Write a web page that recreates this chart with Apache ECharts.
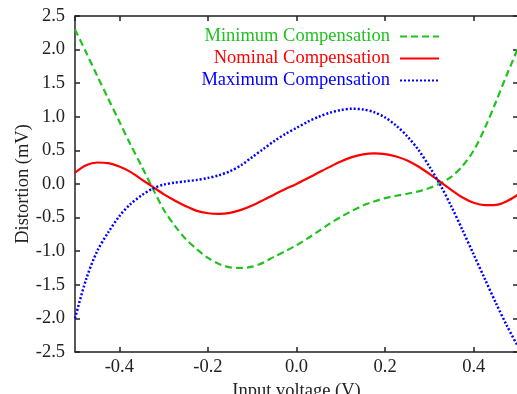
<!DOCTYPE html>
<html>
<head>
<meta charset="utf-8">
<script src="https://cdn.jsdelivr.net/npm/echarts@6/dist/echarts.min.js"></script>
<style>
html, body { margin: 0; padding: 0; background: #fff; }
#chart { width: 517px; height: 394px; }
</style>
</head>
<body>
<div id="chart"></div>
<script>
// input voltage (V), step 0.025
const voltage = [-0.5, -0.475, -0.45, -0.425, -0.4, -0.375, -0.35, -0.325, -0.3, -0.275,
                 -0.25, -0.225, -0.2, -0.175, -0.15, -0.125, -0.1, -0.075, -0.05, -0.025,
                 0, 0.025, 0.05, 0.075, 0.1, 0.125, 0.15, 0.175, 0.2, 0.225,
                 0.25, 0.275, 0.3, 0.325, 0.35, 0.375, 0.4, 0.425, 0.45, 0.475, 0.5];
// distortion (mV)
const minComp = [2.30, 1.96, 1.61, 1.27, 0.93, 0.59, 0.27, -0.06, -0.38, -0.62,
                 -0.82, -0.97, -1.10, -1.19, -1.24, -1.25, -1.23, -1.17, -1.08, -1.0,
                 -0.91, -0.81, -0.70, -0.59, -0.49, -0.40, -0.32, -0.26, -0.21, -0.175,
                 -0.145, -0.11, -0.06, 0.01, 0.11, 0.27, 0.50, 0.83, 1.22, 1.63, 2.02];
const nomComp = [0.17, 0.28, 0.32, 0.31, 0.26, 0.18, 0.07, -0.04, -0.15, -0.245,
                 -0.33, -0.40, -0.435, -0.446, -0.43, -0.385, -0.32, -0.24, -0.155, -0.075,
                 0.0, 0.085, 0.17, 0.255, 0.335, 0.40, 0.44, 0.456, 0.445, 0.41,
                 0.35, 0.26, 0.15, 0.03, -0.09, -0.20, -0.28, -0.315, -0.31, -0.255, -0.16];
const maxComp = [-2.0, -1.42, -1.0, -0.72, -0.48, -0.30, -0.17, -0.07, -0.01, 0.02,
                 0.04, 0.06, 0.09, 0.13, 0.19, 0.28, 0.40, 0.52, 0.64, 0.745,
                 0.835, 0.925, 1.0, 1.06, 1.10, 1.12, 1.11, 1.07, 0.99, 0.87,
                 0.71, 0.51, 0.26, -0.02, -0.34, -0.69, -1.05, -1.41, -1.77, -2.11, -2.42];

const names = ['Minimum Compensation', 'Nominal Compensation', 'Maximum Compensation'];
const colors = ['#1ec31e', '#ff0000', '#0000ff'];

const font = 'Liberation Serif';
const fontSize = 18.5;
const axisColor = '#222';

function pairs(ys) {
    return voltage.map((x, i) => [x, ys[i]]);
}

let myChart = echarts.init(document.getElementById('chart'));

// one legend per series so that the line samples line up on the right
const legendTops = [22, 44, 66];
const legends = names.map((n, i) => ({
    data: [n],
    orient: 'vertical',
    right: 72,
    top: legendTops[i],
    align: 'right',
    itemWidth: 39,
    itemHeight: 10,
    itemStyle: { opacity: 0 },
    textStyle: { fontFamily: font, fontSize: fontSize, color: colors[i], padding: [0, 5, 0, 0] }
}));

// mirrored axes on top and right: ticks only
const tickOnly = {
    axisLine: { show: true, onZero: false, lineStyle: { color: axisColor, width: 1.5 } },
    axisTick: { show: true, inside: true, length: 5, lineStyle: { color: axisColor, width: 1.5 } },
    axisLabel: { show: false },
    splitLine: { show: false }
};

myChart.setOption({
    animation: false,
    color: colors,
    legend: legends,
    grid: { left: 75, right: -1, top: 16, bottom: 42, containLabel: false, outerBoundsMode: 'none' },
    xAxis: [
        {
            type: 'value', min: -0.5, max: 0.5, splitNumber: 5,
            name: 'Input voltage (V)', nameLocation: 'middle', nameGap: 25,
            nameTextStyle: { fontFamily: font, fontSize: fontSize, color: axisColor },
            axisLine: { show: true, onZero: false, lineStyle: { color: axisColor, width: 1.5 } },
            axisTick: { show: true, inside: true, length: 5, lineStyle: { color: axisColor, width: 1.5 } },
            axisLabel: {
                fontFamily: font, fontSize: fontSize, color: axisColor, margin: 6,
                showMinLabel: false, showMaxLabel: false,
                formatter: v => v.toFixed(1)
            },
            splitLine: { show: false }
        },
        Object.assign({ type: 'value', min: -0.5, max: 0.5, splitNumber: 5, position: 'top' }, tickOnly)
    ],
    yAxis: [
        {
            type: 'value', min: -2.5, max: 2.5, interval: 0.5,
            name: 'Distortion (mV)', nameLocation: 'middle', nameGap: 42,
            nameMoveOverlap: false,
            nameTextStyle: { fontFamily: font, fontSize: fontSize, color: axisColor },
            axisLine: { show: true, onZero: false, lineStyle: { color: axisColor, width: 1.5 } },
            axisTick: { show: true, inside: true, length: 5, lineStyle: { color: axisColor, width: 1.5 } },
            axisLabel: {
                fontFamily: font, fontSize: fontSize, color: axisColor, margin: 10,
                formatter: v => v.toFixed(1)
            },
            splitLine: { show: false }
        },
        Object.assign({ type: 'value', min: -2.5, max: 2.5, interval: 0.5, position: 'right' }, tickOnly)
    ],
    series: [
        { name: names[0], type: 'line', data: pairs(minComp), smooth: 0.3, symbol: 'none',
          lineStyle: { color: colors[0], width: 2.2, type: [7, 4] } },
        { name: names[1], type: 'line', data: pairs(nomComp), smooth: 0.3, symbol: 'none',
          lineStyle: { color: colors[1], width: 2.2, type: 'solid' } },
        { name: names[2], type: 'line', data: pairs(maxComp), smooth: 0.3, symbol: 'none',
          lineStyle: { color: colors[2], width: 2.5, type: [2, 2] } }
    ]
});
</script>
</body>
</html>
